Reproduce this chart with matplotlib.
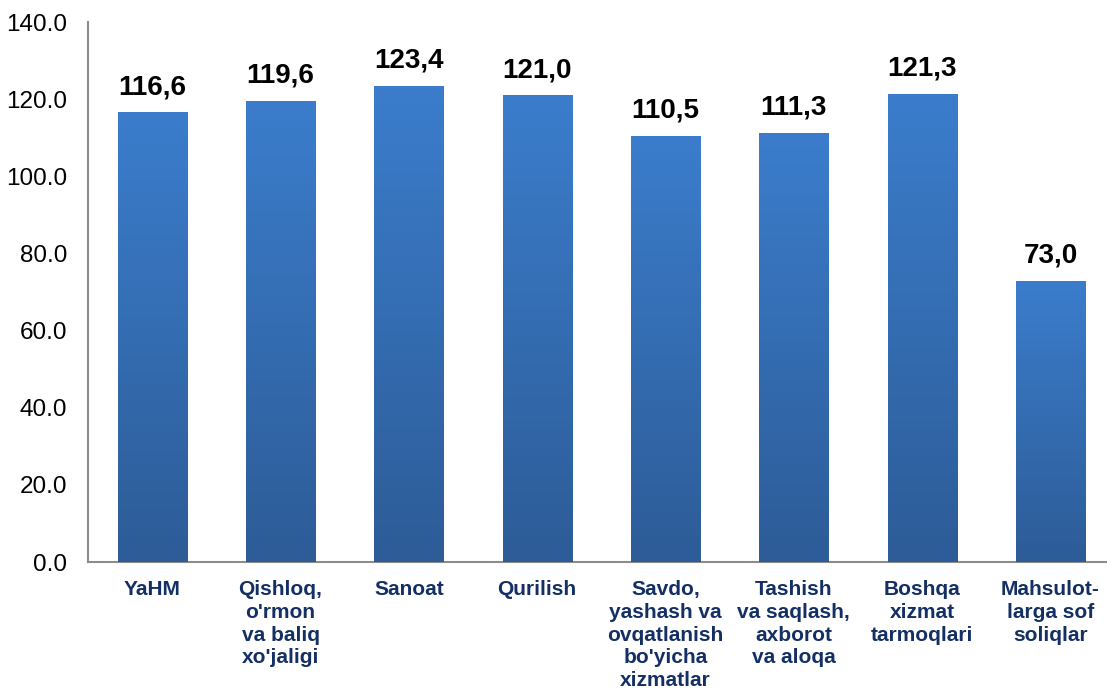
import numpy as np
import matplotlib
matplotlib.use("Agg")
import matplotlib.pyplot as plt
from matplotlib.colors import LinearSegmentedColormap

plt.rcParams['font.family'] = ['Liberation Sans', 'DejaVu Sans']

# Данные
categories = ["YaHM", "Qishloq,\no'rmon\nva baliq\nxo'jaligi", "Sanoat", "Qurilish",
              "Savdo,\nyashash va\novqatlanish\nbo'yicha\nxizmatlar",
              "Tashish\nva saqlash,\naxborot\nva aloqa", "Boshqa\nxizmat\ntarmoqlari",
              "Mahsulot-\nlarga sof\nsoliqlar"]
values = [116.6, 119.6, 123.4, 121.0, 110.5, 111.3, 121.3, 73.0]
yticks = [0, 20, 40, 60, 80, 100, 120, 140]

fig = plt.figure(figsize=(11.07, 6.93), dpi=100)
ax = fig.add_axes([0.0795, 0.189, 0.9205, 0.779])

x = np.arange(len(values))
bars = ax.bar(x, values, width=0.54, color='#3570b8', zorder=2)

# Градиент сверху вниз для каждого столбца
cmap = LinearSegmentedColormap.from_list('bargrad', ['#3b7dcc', '#2d5c97'])
grad = np.linspace(0, 1, 256).reshape(-1, 1)
for b in bars:
    bx, bw, bh = b.get_x(), b.get_width(), b.get_height()
    im = ax.imshow(grad, cmap=cmap, aspect='auto', extent=[bx, bx + bw, 0, bh],
                   origin='upper', zorder=3, interpolation='bilinear')
    im.set_clip_path(b)

for xi, v in zip(x, values):
    ax.text(xi, v + 3.2, f"{v:.1f}".replace('.', ','), ha='center', va='bottom',
            fontsize=20, fontweight='bold', color='black')

ax.set_xlim(-0.5, 7.44)
ax.set_ylim(0, 140)
ax.set_yticks(yticks)
ax.set_yticklabels([f"{t:.1f}" for t in yticks], fontsize=17.5)
ax.set_xticks(x)
ax.set_xticklabels(categories, fontsize=15, fontweight='bold', color='#132f63',
                   linespacing=1.25, va='top', multialignment='center')
ax.tick_params(axis='both', length=0)
ax.tick_params(axis='x', pad=13)
ax.tick_params(axis='y', pad=15)

for s in ['top', 'right']:
    ax.spines[s].set_visible(False)
ax.spines['left'].set_color('#8c8c8c')
ax.spines['bottom'].set_color('#8c8c8c')
ax.spines['left'].set_linewidth(1.5)
ax.spines['bottom'].set_linewidth(1.5)

fig.savefig('out.png', dpi=100)
